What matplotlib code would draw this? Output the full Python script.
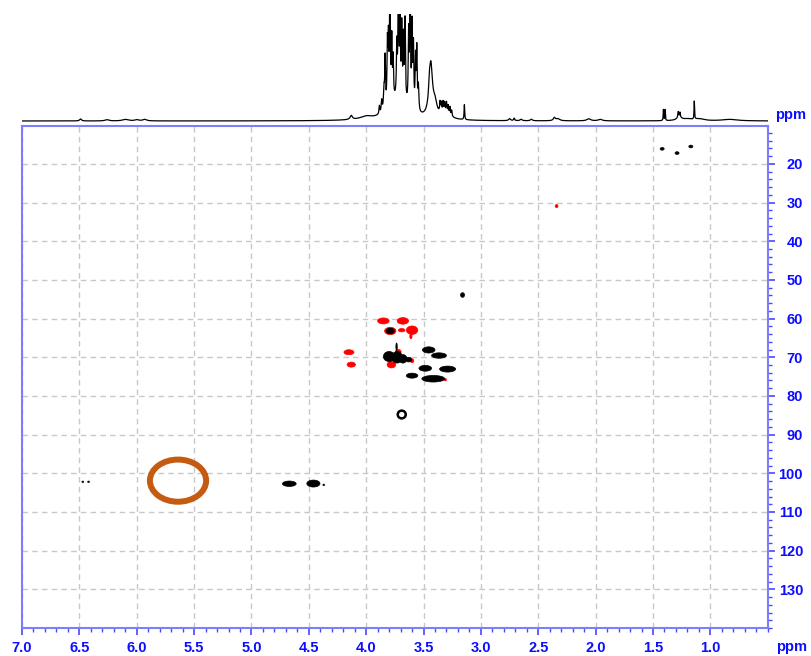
import numpy as np
import matplotlib
matplotlib.use("Agg")
import matplotlib.pyplot as plt
from matplotlib.patches import Ellipse
from matplotlib.ticker import MultipleLocator

# ---------------- data ----------------
# 1D 1H projection: line positions (ppm), heights (arb.), half widths (ppm)
h1_pos = [6.49, 6.26, 6.10, 6.00, 5.93, 4.13, 4.00,
          3.72, 3.885, 3.865, 3.845, 3.835, 3.815, 3.806, 3.793, 3.777, 3.765,
          3.733, 3.719, 3.705, 3.690, 3.675, 3.661, 3.630, 3.617, 3.600, 3.588,
          3.570, 3.559, 3.545, 3.437, 3.45, 3.40,
          3.356, 3.345, 3.33, 3.316, 3.30, 3.285, 3.27, 3.255, 3.31,
          3.144, 2.75, 2.71, 2.65, 2.56, 2.36, 2.33, 2.06, 1.96,
          1.409, 1.394, 1.28, 1.265, 1.27, 1.20, 1.14, 1.10, 0.83]
h1_hgt = [2, 1.2, 1.5, 1.2, 1.5, 4, 3,
          20, 8, 12, 20, 50, 60, 60, 130, 60, 40,
          50, 130, 70, 70, 60, 80, 70, 130, 80, 60,
          50, 60, 25, 53, 10, 12,
          10, 9, 10, 9, 10, 8, 8, 6, 6,
          15, 2, 2.5, 1.5, 1.5, 3, 2, 2, 1.5,
          11, 11, 6, 5, 3, 1.5, 18, 2, 1.5]
h1_wid = [0.01, 0.02, 0.03, 0.02, 0.02, 0.012, 0.06,
          0.09, 0.004, 0.005, 0.005, 0.004, 0.004, 0.004, 0.004, 0.004, 0.004,
          0.004, 0.004, 0.004, 0.004, 0.004, 0.004, 0.004, 0.004, 0.004, 0.004,
          0.004, 0.004, 0.005, 0.018, 0.005, 0.02,
          0.004, 0.004, 0.004, 0.004, 0.004, 0.004, 0.004, 0.004, 0.05,
          0.003, 0.01, 0.005, 0.01, 0.01, 0.01, 0.02, 0.02, 0.02,
          0.0025, 0.0025, 0.004, 0.004, 0.03, 0.04, 0.0025, 0.05, 0.08]

# 2D HSQC cross peaks: 1H ppm, 13C ppm, width 1H, width 13C, phase (+1 black / -1 red / 0 ring)
pk_h = [1.42, 1.29, 1.17, 2.34, 3.16,
        3.85, 3.68, 3.79, 3.79, 3.69, 3.60, 3.61, 4.15, 4.13,
        3.78, 3.72, 3.80, 3.73, 3.68, 3.63, 3.735, 3.60,
        3.455, 3.365, 3.485, 3.29, 3.60, 3.415, 3.31,
        3.69, 4.67, 4.46, 4.37, 6.47, 6.42]
pk_c = [16.1, 17.2, 15.5, 30.9, 53.9,
        60.6, 60.6, 63.2, 63.2, 63.0, 63.0, 64.6, 68.7, 71.9,
        71.9, 68.6, 69.8, 70.0, 70.4, 70.6, 67.3, 70.9,
        68.1, 69.55, 72.85, 73.05, 74.75, 75.55, 75.8,
        84.8, 102.7, 102.65, 103.0, 102.2, 102.2]
pk_dh = [0.035, 0.035, 0.035, 0.025, 0.035,
         0.10, 0.10, 0.10, 0.07, 0.058, 0.10, 0.02, 0.087, 0.073,
         0.075, 0.05, 0.10, 0.09, 0.07, 0.055, 0.012, 0.03,
         0.11, 0.13, 0.11, 0.14, 0.10, 0.20, 0.02,
         0.07, 0.12, 0.115, 0.015, 0.015, 0.015]
pk_dc = [0.7, 0.7, 0.7, 0.8, 1.2,
         1.55, 1.7, 1.9, 1.5, 0.86, 2.2, 1.2, 1.3, 1.3,
         1.7, 1.2, 2.6, 3.0, 2.2, 1.2, 2.0, 1.0,
         1.6, 1.4, 1.5, 1.55, 1.3, 1.7, 0.6,
         2.0, 1.4, 1.8, 0.4, 0.4, 0.4]
pk_phase = [1, 1, 1, -1, 1,
            -1, -1, -1, 1, -1, -1, -1, -1, -1,
            -1, -1, 1, 1, 1, 1, 1, -1,
            1, 1, 1, 1, 1, 1, -1,
            0, 1, 1, 1, 1, 1]

x_ticks = [7.0, 6.5, 6.0, 5.5, 5.0, 4.5, 4.0, 3.5, 3.0, 2.5, 2.0, 1.5, 1.0]
y_ticks = [20, 30, 40, 50, 60, 70, 80, 90, 100, 110, 120, 130]
mark_center = (5.64, 101.9)
mark_size = (0.49, 10.9)

# ---------------- styling ----------------
BLUE_TXT = "#0d0dff"
BLUE_AX = "#7d7dff"
BLUE_TICK = "#4848ff"
FONT = ["Liberation Sans", "DejaVu Sans"]
plt.rcParams["font.family"] = FONT

W, H = 812, 656
fig = plt.figure(figsize=(W / 100, H / 100), dpi=100)

ax_l, ax_r = 22, 767.7
ax_t, ax_b = 126, 628
ax = fig.add_axes([ax_l / W, 1 - ax_b / H, (ax_r - ax_l) / W, (ax_b - ax_t) / H])
sp_t, sp_b = 14, 124
ax1 = fig.add_axes([ax_l / W, 1 - sp_b / H, (ax_r - ax_l) / W, (sp_b - sp_t) / H])

# ---- 1D spectrum ----
xg = np.linspace(7.0, 0.5, 26000)
yg = np.zeros_like(xg)
for c, h, w in zip(h1_pos, h1_hgt, h1_wid):
    yg += h / (1.0 + ((xg - c) / w) ** 2)
ax1.plot(xg, yg, color="black", lw=0.9)
ax1.set_xlim(7.0, 0.5)
ax1.set_ylim(-3, 107)
ax1.axis("off")

# ---- 2D map ----
ax.set_xlim(7.0, 0.5)
ax.set_ylim(140, 10.2)
for hx, cy, dh, dc, ph in zip(pk_h, pk_c, pk_dh, pk_dc, pk_phase):
    if ph == 0:
        e = Ellipse((hx, cy), dh, dc, angle=0, facecolor="none",
                    edgecolor="black", lw=1.8, zorder=3)
    else:
        col = "black" if ph > 0 else "#ff0000"
        e = Ellipse((hx, cy), dh, dc, facecolor=col, edgecolor=col,
                    lw=0.5, zorder=3 if ph > 0 else 2.5)
    ax.add_patch(e)

ax.add_patch(Ellipse(mark_center, mark_size[0], mark_size[1], facecolor="none",
                     edgecolor="#c55a11", lw=4.3, zorder=4))

ax.set_xticks(x_ticks)
ax.set_xticklabels([f"{v:.1f}" for v in x_ticks])
ax.xaxis.set_minor_locator(MultipleLocator(0.1))
ax.yaxis.tick_right()
ax.set_yticks(y_ticks)
ax.set_yticklabels([str(v) for v in y_ticks], ha="right")
ax.yaxis.set_minor_locator(MultipleLocator(2))

ax.tick_params(axis="both", which="major", direction="out", length=5, width=1.2,
               color=BLUE_TICK, labelcolor=BLUE_TXT, labelsize=10.5)
ax.tick_params(axis="both", which="minor", direction="out", length=2.8, width=1.0,
               color=BLUE_TICK)
ax.tick_params(axis="x", which="major", pad=4)
ax.tick_params(axis="y", which="major", pad=20.5)
for lbl in ax.get_xticklabels() + ax.get_yticklabels():
    lbl.set_fontweight("bold")

for s in ax.spines.values():
    s.set_color(BLUE_AX)
    s.set_linewidth(1.5)

ax.grid(True, which="major", color="#c8c8c8", linestyle=(0, (4, 3)), lw=1.0, zorder=1)
ax.set_axisbelow(True)

fig.text(791 / W, 1 - 115 / H, "ppm", color=BLUE_TXT, fontsize=10.5,
         fontweight="bold", ha="center", va="center")
fig.text(792 / W, 1 - 647 / H, "ppm", color=BLUE_TXT, fontsize=10.5,
         fontweight="bold", ha="center", va="center")

fig.savefig("out.png", dpi=100)
